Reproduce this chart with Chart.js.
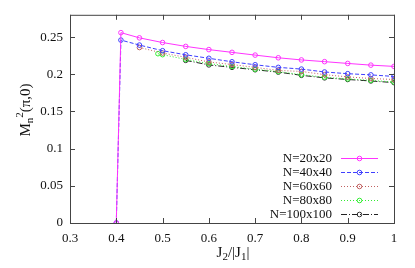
<!DOCTYPE html>
<html>
<head>
<meta charset="utf-8">
<script src="https://cdn.jsdelivr.net/npm/chart.js@4/dist/chart.umd.min.js"></script>
<style>
  html, body { margin: 0; padding: 0; background: #fff; }
  #wrap { width: 415px; height: 268px; }
</style>
</head>
<body>
<div id="wrap"><canvas id="myChart"></canvas></div>
<script>
// J2/|J1| values and M_n^2(pi,0) for each lattice size
const labels = ["N=20x20", "N=40x40", "N=60x60", "N=80x80", "N=100x100"]

const x20 = [0.4, 0.41, 0.45, 0.5, 0.55, 0.6, 0.65, 0.7, 0.75, 0.8, 0.85, 0.9, 0.95, 1.0]
const y20 = [0, 0.256, 0.249, 0.2427, 0.2375, 0.2332, 0.2295, 0.2258, 0.2222, 0.2193, 0.217, 0.2146, 0.2123, 0.2106]

const x40 = [0.4, 0.41, 0.45, 0.5, 0.55, 0.6, 0.65, 0.7, 0.75, 0.8, 0.85, 0.9, 0.95, 1.0]
const y40 = [0, 0.246, 0.2393, 0.2317, 0.2262, 0.2215, 0.2168, 0.2128, 0.2093, 0.207, 0.2031, 0.2008, 0.1992, 0.1971]

const x60 = [0.45, 0.5, 0.55, 0.6, 0.65, 0.7, 0.75, 0.8, 0.85, 0.9, 0.95, 1.0]
const y60 = [0.236, 0.2286, 0.2228, 0.2166, 0.2131, 0.2093, 0.2052, 0.2038, 0.1995, 0.1965, 0.1943, 0.193]

const x80 = [0.49, 0.5, 0.55, 0.6, 0.65, 0.7, 0.75, 0.8, 0.85, 0.9, 0.95, 1.0]
const y80 = [0.2277, 0.2264, 0.22, 0.2144, 0.2105, 0.2068, 0.2036, 0.1995, 0.196, 0.1938, 0.1918, 0.1896]

const x100 = [0.55, 0.6, 0.65, 0.7, 0.75, 0.8, 0.85, 0.9, 0.95, 1.0]
const y100 = [0.2187, 0.2126, 0.2093, 0.2061, 0.2029, 0.1986, 0.1952, 0.193, 0.191, 0.1888]

const xTicks = [0.3, 0.4, 0.5, 0.6, 0.7, 0.8, 0.9, 1.0]
const yTicks = [0, 0.05, 0.1, 0.15, 0.2, 0.25]

const colors = ["#ff33ff", "#3f3fff", "#c06060", "#33ee33", "#222222"]
const dashes = [[], [4, 2], [1, 2], [1, 2], [6, 2, 1, 2]]
const pointColors = ["#ff33ff", "#3f3fff", "#c06060", "#33ee33", "#333333"]

const allX = [x20, x40, x60, x80, x100]
const allY = [y20, y40, y60, y80, y100]

const ctx = document.querySelector("#myChart")
const serif = "'Liberation Serif', 'DejaVu Serif', serif"

function pts(xs, ys) {
    return xs.map((x, i) => ({ x: x, y: ys[i] }))
}

const datasets = labels.map((lab, i) => {
    return {
        label: lab,
        data: pts(allX[i], allY[i]),
        borderColor: colors[i],
        borderWidth: 1,
        borderDash: dashes[i],
        pointStyle: "circle",
        pointRadius: 2.3,
        pointBorderWidth: 1,
        pointBorderColor: pointColors[i],
        pointBackgroundColor: "rgba(255,255,255,0)",
        fill: false,
        tension: 0
    }
})

// frame, inward ticks, axis titles and legend
const decor = {
    id: "decor",
    afterDraw(chart) {
        const c = chart.ctx
        const a = chart.chartArea
        const xs = chart.scales.x
        const ys = chart.scales.y
        c.save()
        c.strokeStyle = "#444"
        c.lineWidth = 1
        c.setLineDash([])
        c.strokeRect(a.left + 0.5, a.top + 0.5, a.right - a.left, a.bottom - a.top)
        c.beginPath()
        xs.ticks.forEach(t => {
            const px = Math.round(xs.getPixelForValue(t.value)) + 0.5
            c.moveTo(px, a.bottom); c.lineTo(px, a.bottom - 5)
            c.moveTo(px, a.top); c.lineTo(px, a.top + 5)
        })
        ys.ticks.forEach(t => {
            const py = Math.round(ys.getPixelForValue(t.value)) + 0.5
            c.moveTo(a.left, py); c.lineTo(a.left + 5, py)
            c.moveTo(a.right, py); c.lineTo(a.right - 5, py)
        })
        c.stroke()

        // x title: J2/|J1|
        c.fillStyle = "#111"
        c.textBaseline = "alphabetic"
        c.textAlign = "left"
        const big = "15px " + serif
        const small = "11px " + serif
        const parts = [["J", big, 0], ["2", small, 3], ["/|J", big, 0], ["1", small, 3], ["|", big, 0]]
        let w = 0
        parts.forEach(p => { c.font = p[1]; w += c.measureText(p[0]).width })
        let cx = (a.left + a.right) / 2 - w / 2 + 1
        parts.forEach(p => {
            c.font = p[1]
            c.fillText(p[0], cx, 257 + p[2])
            cx += c.measureText(p[0]).width
        })

        // y title: Mn^2(pi,0)
        c.save()
        c.translate(30, 110)
        c.rotate(-Math.PI / 2)
        c.font = big
        const mW = c.measureText("M").width
        c.font = small
        const nW = c.measureText("n").width
        const tW = c.measureText("2").width
        c.font = big
        const rW = c.measureText("(π,0)").width
        let sx = -(mW + nW + tW + rW) / 2
        c.fillText("M", sx, 0)
        sx += mW
        c.font = small
        c.fillText("n", sx, 3)
        sx += nW
        c.fillText("2", sx, -7)
        sx += tW
        c.font = big
        c.fillText("(π,0)", sx, 0)
        c.restore()

        // legend
        c.font = "13px " + serif
        c.textAlign = "right"
        c.textBaseline = "middle"
        chart.data.datasets.forEach((ds, i) => {
            const y = 158 + i * 14
            c.fillStyle = "#111"
            c.fillText(ds.label, 332, y + 0.5)
            c.strokeStyle = ds.borderColor
            c.setLineDash(ds.borderDash)
            c.beginPath()
            c.moveTo(341, y + 0.5); c.lineTo(378, y + 0.5)
            c.stroke()
            c.setLineDash([])
            c.strokeStyle = ds.pointBorderColor
            c.beginPath()
            c.arc(359.5, y + 0.5, 2.3, 0, Math.PI * 2)
            c.stroke()
        })
        c.restore()
    }
}

new Chart(ctx, {
    type: "line",
    data: { datasets: datasets },
    options: {
        responsive: true,
        maintainAspectRatio: false,
        animation: false,
        layout: { padding: { top: 5, right: 21, left: 0, bottom: 0 } },
        plugins: { legend: { display: false }, tooltip: { enabled: false } },
        scales: {
            x: {
                type: "linear",
                min: 0.3,
                max: 1.0,
                afterBuildTicks: s => { s.ticks = xTicks.map(v => ({ value: v })) },
                afterFit: s => { s.height = 45 },
                grid: { display: false, drawTicks: false },
                border: { display: false },
                ticks: {
                    color: "#111",
                    font: { family: serif, size: 13 },
                    padding: 8,
                    maxRotation: 0,
                    callback: v => String(Number(v.toFixed(2)))
                }
            },
            y: {
                type: "linear",
                min: 0,
                max: 0.28,
                afterBuildTicks: s => { s.ticks = yTicks.map(v => ({ value: v })) },
                afterFit: s => { s.width = 70 },
                grid: { display: false, drawTicks: false },
                border: { display: false },
                ticks: {
                    color: "#111",
                    font: { family: serif, size: 13 },
                    padding: 7,
                    callback: v => String(Number(v.toFixed(2)))
                }
            }
        }
    },
    plugins: [decor]
})
</script>
</body>
</html>
